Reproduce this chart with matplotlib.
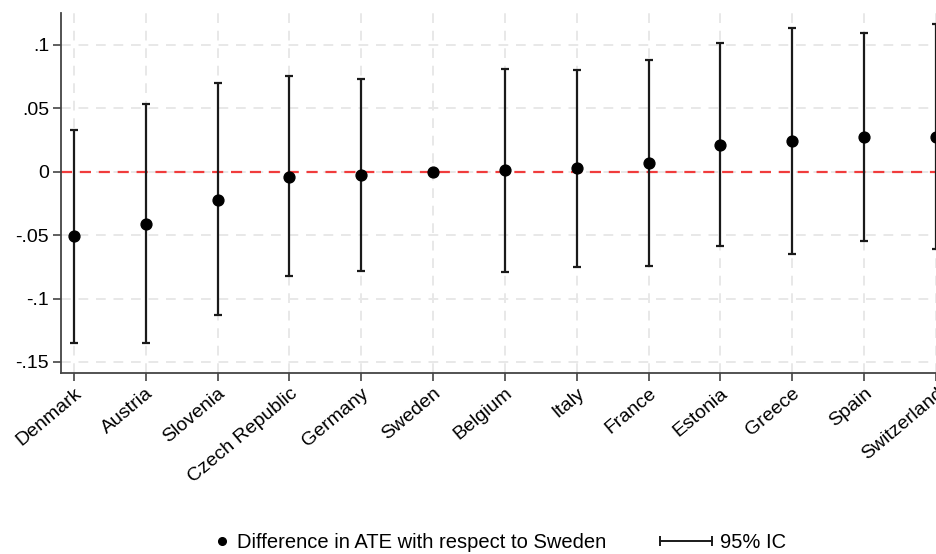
import matplotlib.pyplot as plt
from matplotlib.lines import Line2D
from matplotlib.legend_handler import HandlerLine2D
import numpy as np

plt.rcParams['font.family'] = ['Liberation Sans', 'DejaVu Sans']

countries = ["Denmark", "Austria", "Slovenia", "Czech Republic", "Germany", "Sweden",
             "Belgium", "Italy", "France", "Estonia", "Greece", "Spain", "Switzerland"]
ate_diff = [-0.051, -0.041, -0.022, -0.004, -0.003, 0.0,
            0.001, 0.003, 0.007, 0.021, 0.024, 0.027, 0.027]
ci_low = [-0.135, -0.135, -0.113, -0.082, -0.078, np.nan,
          -0.079, -0.075, -0.074, -0.059, -0.065, -0.055, -0.061]
ci_high = [0.033, 0.053, 0.070, 0.075, 0.073, np.nan,
           0.081, 0.080, 0.088, 0.101, 0.113, 0.109, 0.116]
y_ticks = [-0.15, -0.1, -0.05, 0, 0.05, 0.1]
y_labels = ["-.15", "-.1", "-.05", "0", ".05", ".1"]

x = np.arange(len(countries))
ate = np.array(ate_diff)
lo = np.array(ci_low)
hi = np.array(ci_high)

fig = plt.figure(figsize=(9.37, 5.54), dpi=100)
ax = fig.add_axes([0.0651, 0.3267, 0.9568, 0.6498])

ax.grid(True, color='#e8e8e8', linestyle=(0, (5, 4)), linewidth=1.4)
ax.set_axisbelow(True)

ax.axhline(0, color='#f03c3c', linestyle=(0, (5, 3.5)), linewidth=1.6, zorder=2)

# Sweden is the reference country, so no interval
has_ci = ~np.isnan(lo)
ax.errorbar(x[has_ci], ate[has_ci], yerr=[ate[has_ci] - lo[has_ci], hi[has_ci] - ate[has_ci]],
            fmt='none', ecolor='#1a1a1a', elinewidth=1.6, capsize=3, capthick=1.6, zorder=3)
ax.plot(x, ate, 'o', color='black', markersize=7.8, zorder=4)

ax.set_xlim(-0.18, 12.3)
ax.set_ylim(-0.1587, 0.125)
ax.set_xticks(x)
ax.set_xticklabels(countries, rotation=40, ha='right', rotation_mode='anchor', fontsize=14)
ax.set_yticks(y_ticks)
ax.set_yticklabels(y_labels, fontsize=14)
ax.tick_params(axis='both', direction='out', length=5.5, width=1.2, color='#444444', pad=3)

for side in ['top', 'right']:
    ax.spines[side].set_visible(False)
for side in ['left', 'bottom']:
    ax.spines[side].set_color('#444444')
    ax.spines[side].set_linewidth(1.3)

# two legends so each entry gets its own handle width
fs = 14.5
dot_handle = Line2D([], [], color='black', marker='o', linestyle='none', markersize=5.5)
leg1 = fig.legend([dot_handle], ["Difference in ATE with respect to Sweden"],
                  loc='center left', bbox_to_anchor=(212 / 937, 0.02), frameon=False,
                  fontsize=fs, handlelength=1.0, handletextpad=0.25,
                  borderpad=0, borderaxespad=0)

ci_handle = Line2D([], [], color='#1a1a1a', marker='|', markersize=7, linewidth=1.4,
                   markeredgewidth=1.4)
leg2 = fig.legend([ci_handle], ["95% IC"],
                  handler_map={ci_handle: HandlerLine2D(numpoints=2, marker_pad=0)},
                  loc='center left', bbox_to_anchor=(660 / 937, 0.02), frameon=False,
                  fontsize=fs, handlelength=2.6, handletextpad=0.4,
                  borderpad=0, borderaxespad=0)

fig.savefig('out.png', dpi=100)
